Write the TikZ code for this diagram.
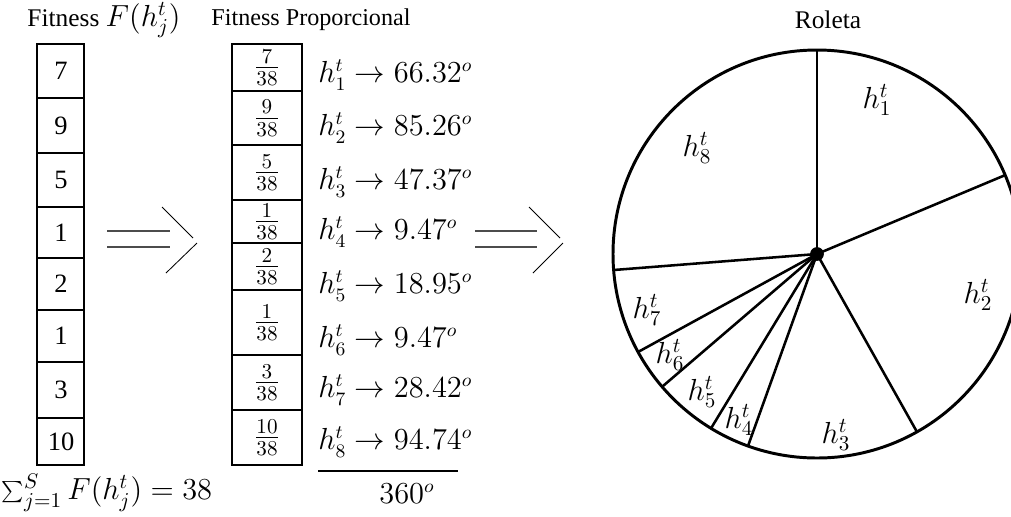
\documentclass[tikz,border=0pt]{standalone}
\usepackage{fontspec}
\setmainfont{Liberation Serif}
\newcommand{\mymath}[1]{{\fontsize{14}{16}\selectfont$#1$}}
\newcommand{\mymathb}[1]{{\fontsize{13.5}{16}\selectfont$#1$}}
\begin{document}
\begin{tikzpicture}[x=0.4724pt,y=-0.4724pt,
  txt/.style={inner sep=0pt,font=\fontsize{12}{14}\selectfont},
  cellline/.style={draw=black,line width=0.5pt},
  dbl/.style={draw=black!70,line width=0.7pt},
  chev/.style={draw=black,line width=0.4pt},
  wheel/.style={line width=1.4pt},
  spoke/.style={line width=1.2pt}]
\useasboundingbox (0,0) rectangle (1011,516);
% titles
\node[txt] (t1) at (104,20) {Fitness \mymath{F(h_j^t)}};
\node[txt,font=\fontsize{11.4}{14}\selectfont] (t2) at (311,20) {Fitness Proporcional};
\node[txt] (t3) at (828,20) {Roleta};
% left table
\def\ys{44/98/7,98/153/9,153/207/5,207/258/1,258/310/2,310/362/1,362/418/3,418/465/10}
\foreach \a/\b/\v [count=\i] in \ys {
  \draw[cellline] (37,\a) rectangle (84,\b);
  \node[txt,font=\fontsize{12.5}{14}\selectfont] (L\i) at (61,{(\a+\b)/2}) {\v};
}
% middle table
\def\ms{44/91/7,91/145/9,145/200/5,200/243/1,243/290/2,290/355/1,355/410/3,410/465/10}
\foreach \a/\b/\v [count=\i] in \ms {
  \draw[cellline] (232,\a) rectangle (302,\b);
  \node[txt,font=\fontsize{14.5}{16}\selectfont] (M\i) at (267,{(\a+\b)/2}) {$\frac{\v}{38}$};
}
% degree labels
\def\ds{1/75/66.32,2/128/85.26,3/182/47.37,4/232/9.47,5/286/18.95,6/340/9.47,7/390/28.42,8/442/94.74}
\foreach \i/\y/\d in \ds {
  \node[txt,anchor=west] (D\i) at (318,\y) {\mymathb{h_{\i}^t \rightarrow \d^o}};
}
\coordinate (ul1) at (318,471);
\coordinate (ul2) at (458,471);
\draw[line width=0.5pt] (ul1) -- (ul2);
\node[txt] (tot) at (407,494) {\mymathb{360^o}};
\node[txt] (sum) at (107,493) {\mymath{\sum_{j=1}^S F(h_j^t) = 38}};
% arrows
\coordinate (a1s) at (107,231); \coordinate (a1e) at (170,231);
\coordinate (a2s) at (107,247); \coordinate (a2e) at (170,247);
\coordinate (c1a) at (162,207); \coordinate (c1b) at (193,238);
\coordinate (c1d) at (197,243); \coordinate (c1c) at (166,273);
\draw[dbl] (a1s) -- (a1e);
\draw[dbl] (a2s) -- (a2e);
\draw[chev] (c1a) -- (c1b);
\draw[chev] (c1d) -- (c1c);
\coordinate (b1s) at (475,231); \coordinate (b1e) at (537,231);
\coordinate (b2s) at (475,247); \coordinate (b2e) at (537,247);
\coordinate (c2a) at (529,207); \coordinate (c2b) at (560,238);
\coordinate (c2d) at (563,243); \coordinate (c2c) at (533,273);
\draw[dbl] (b1s) -- (b1e);
\draw[dbl] (b2s) -- (b2e);
\draw[chev] (c2a) -- (c2b);
\draw[chev] (c2d) -- (c2c);
% wheel
\node[circle,fill=black,inner sep=0pt,minimum size=6.5pt] (c) at (817,254) {};
\draw[wheel] (817,254) circle[radius=204];
\begin{scope}[shift={(817,254)},y=0.4724pt]
  \foreach \ang [count=\k] in {90,22.75,-60.67,-109.77,-121.3,-139.4,-151.3,-175.5} {
    \coordinate (p\k) at (\ang:203);
    \draw[spoke] (c.center) -- (p\k);
  }
\end{scope}
\node[txt] (w1) at (877,100) {\mymath{h_1^t}};
\node[txt] (w2) at (978,295) {\mymath{h_2^t}};
\node[txt] (w3) at (836,435) {\mymath{h_3^t}};
\node[txt] (w4) at (739,420) {\mymath{h_4^t}};
\node[txt] (w5) at (702,392) {\mymath{h_5^t}};
\node[txt] (w6) at (670,355) {\mymath{h_6^t}};
\node[txt] (w7) at (647,310) {\mymath{h_7^t}};
\node[txt] (w8) at (697,148) {\mymath{h_8^t}};
\end{tikzpicture}
\end{document}
